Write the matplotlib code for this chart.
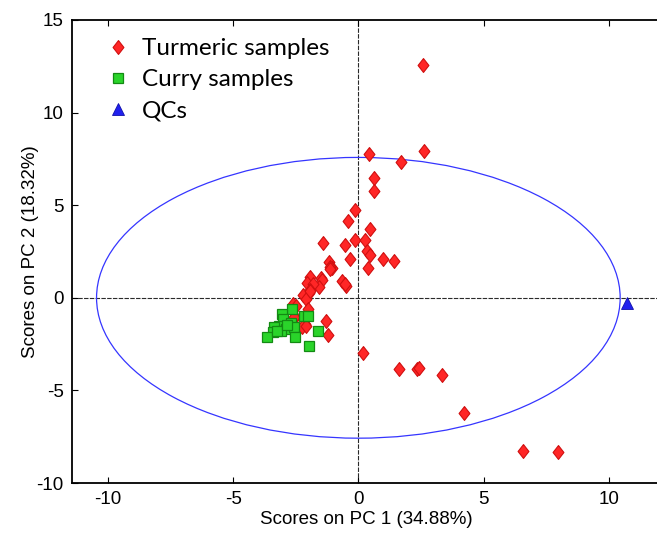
import numpy as np
import matplotlib.pyplot as plt
from matplotlib.patches import Ellipse

plt.rcParams['axes.unicode_minus'] = False

# PCA scores
turmeric_x = [2.57, 2.61, 0.42, 1.70, 0.62, 0.61, -0.13, -0.43, 0.45, -1.41,
              -0.54, -0.13, 0.26, 0.33, 0.46, 0.99, 1.41, -0.33, 0.38, -1.17,
              -1.06, -1.15, -0.67, -0.50, -0.55, -1.94, -1.49, -1.46, -2.06, -1.59,
              -1.83, -1.92, -1.98, -2.22, -2.10, -2.60, -2.50, -2.03, -2.51, -1.31,
              -2.12, -2.26, -1.21, 0.19, 1.64, 2.35, 2.43, 3.33, 4.20, 6.57,
              7.96, -1.13, -1.95, -2.09, -2.55]
turmeric_y = [12.57, 7.93, 7.76, 7.33, 6.47, 5.78, 4.74, 4.13, 3.71, 2.96,
              2.83, 3.14, 3.14, 2.54, 2.29, 2.10, 1.97, 2.11, 1.59, 1.93,
              1.59, 1.65, 0.89, 0.64, 0.75, 1.14, 1.07, 0.98, 0.78, 0.57,
              0.73, 0.42, 0.24, 0.13, -0.05, -0.32, -0.44, -0.62, -1.05, -1.24,
              -1.43, -1.58, -2.02, -3.00, -3.83, -3.86, -3.81, -4.17, -6.20, -8.27,
              -8.34, 1.57, 0.36, -1.51, -1.05]

curry_x = [-2.63, -2.16, -2.03, -3.03, -3.00, -2.69, -3.16, -3.36, -2.89, -3.09,
           -3.40, -2.56, -3.66, -2.52, -1.60, -1.99, -3.23, -2.83]
curry_y = [-0.60, -0.98, -0.97, -0.89, -1.16, -1.38, -1.52, -1.56, -1.70, -1.79,
           -1.86, -1.59, -2.10, -2.10, -1.78, -2.60, -1.79, -1.47]

qc_x = [10.72]
qc_y = [-0.26]

# 95% confidence ellipse semi-axes
ell_a, ell_b = 10.45, 7.58

# slightly fat diamond like the original
diamond = [(0, 1), (0.78, 0), (0, -1), (-0.78, 0), (0, 1)]

fig = plt.figure(figsize=(6.57, 5.34), dpi=100)
ax = fig.add_axes([72/657, 51/534, 588/657, 463/534])

ax.axhline(0, color='#2a2a2a', lw=0.8, ls=(0, (4, 1.2)), zorder=1)
ax.axvline(0, color='#2a2a2a', lw=0.8, ls=(0, (4, 1.2)), zorder=1)

ax.add_patch(Ellipse((0, 0), 2*ell_a, 2*ell_b, fill=False, ec='#3535ff', lw=0.9, zorder=2))

ax.plot(turmeric_x, turmeric_y, marker=diamond, ms=10, mfc='#ff2626', mec='#d01010', mew=0.8,
        ls='none', label='Turmeric samples', zorder=3)
ax.plot(curry_x, curry_y, 's', ms=7.5, mfc='#2ad42a', mec='#138a13', mew=0.9,
        ls='none', label='Curry samples', zorder=4)
ax.plot(qc_x, qc_y, '^', ms=8, mfc='#2020ee', mec='#1010aa', mew=0.6,
        ls='none', label='QCs', zorder=4)

ax.set_xlim(-11.43, 12.04)
ax.set_ylim(-10, 15)
ax.set_xticks([-10, -5, 0, 5, 10])
ax.set_yticks([-10, -5, 0, 5, 10, 15])

fs = 13.5
ax.tick_params(direction='in', length=4, width=0.8, top=True, right=False,
               labelsize=fs, labelfontfamily='Liberation Sans', pad=6)
for s in ['left', 'bottom', 'top']:
    ax.spines[s].set_linewidth(1.3)
ax.spines['right'].set_visible(False)

ax.set_xlabel('Scores on PC 1 (34.88%)', fontsize=fs, family='Liberation Sans', labelpad=2)
ax.set_ylabel('Scores on PC 2 (18.32%)', fontsize=fs, family='Liberation Sans', labelpad=-2)

leg = ax.legend(loc='upper left', bbox_to_anchor=(91/657, 1 - 26/534),
                bbox_transform=fig.transFigure, frameon=False,
                prop={'family': 'Lato', 'size': 17.5}, handletextpad=0.4,
                labelspacing=0.42, borderpad=0, handlelength=1.2)

fig.savefig('out.png', dpi=100)
